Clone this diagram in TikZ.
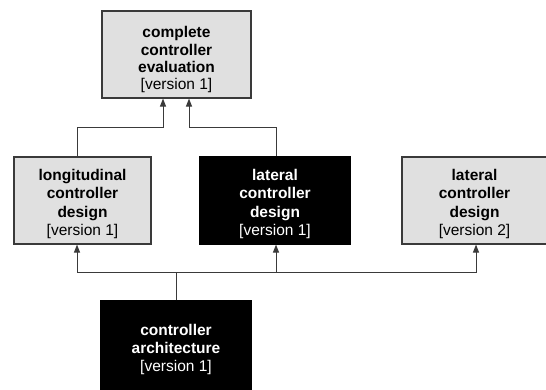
\documentclass[tikz,border=0pt]{standalone}
\usepackage{fontspec}
\setmainfont{Liberation Sans}
\usetikzlibrary{arrows.meta}
\definecolor{boxgray}{HTML}{E0E0E0}
\definecolor{edgegray}{HTML}{3A3A3A}
% \lift{h} puts an invisible strut of height h on a line
\newcommand{\lift}[1]{\rule{0pt}{#1}}
\tikzset{
  box/.style={draw=edgegray, line width=1.1pt, inner sep=0pt, align=center,
    font=\fontsize{15.5}{18.3}\selectfont},
  lightbox/.style={box, fill=boxgray, text=black},
  darkbox/.style={box, fill=black, draw=black, text=white},
  wire/.style={draw=edgegray, line width=1pt},
  arr/.style={wire, -{Triangle[length=8pt,width=6pt]}},
}
\begin{document}
\begin{tikzpicture}[x=1pt,y=1pt]
\useasboundingbox (0,0) rectangle (546,-390);
\clip (0,0) rectangle (546,-390);

\node[lightbox, minimum width=149pt, minimum height=87pt,
      font=\fontsize{15.5}{17.3}\selectfont] (top) at (176.5,-54.5)
  {\lift{22pt}\textbf{complete}\\\textbf{controller}\\\textbf{evaluation}\\{}[version 1]};
\node[lightbox, minimum width=137pt, minimum height=87pt] (long) at (82.5,-200.5)
  {\lift{18pt}\textbf{longitudinal}\\\textbf{controller}\\\textbf{design}\\{}[version 1]};
\node[darkbox, minimum width=150pt, minimum height=87pt] (lat1) at (275,-200.5)
  {\lift{18pt}\textbf{lateral}\\\textbf{controller}\\\textbf{design}\\{}[version 1]};
\node[lightbox, minimum width=145pt, minimum height=87pt] (lat2) at (474.5,-200.5)
  {\lift{18pt}\textbf{lateral}\\\textbf{controller}\\\textbf{design}\\{}[version 2]};
\node[darkbox, minimum width=150pt, minimum height=94pt] (arch) at (176,-348)
  {\lift{14pt}\textbf{controller}\\\textbf{architecture}\\{}[version 1]};

% design results feed the evaluation
\draw[arr] ([xshift=-5.5pt]long.north) -- ++(0,29) -| ([xshift=-13.5pt]top.south);
\draw[arr] ([xshift=1pt]lat1.north) -- ++(0,29) -| ([xshift=12.5pt]top.south);

% architecture fans out to the designs
\draw[wire] (arch.north) -- ++(0,28) coordinate (bus);
\draw[arr] (bus) -| ([xshift=-5.5pt]long.south);
\draw[arr] (bus) -| ([xshift=1pt]lat1.south);
\draw[arr] (bus) -| ([xshift=1.5pt]lat2.south);
\end{tikzpicture}
\end{document}
